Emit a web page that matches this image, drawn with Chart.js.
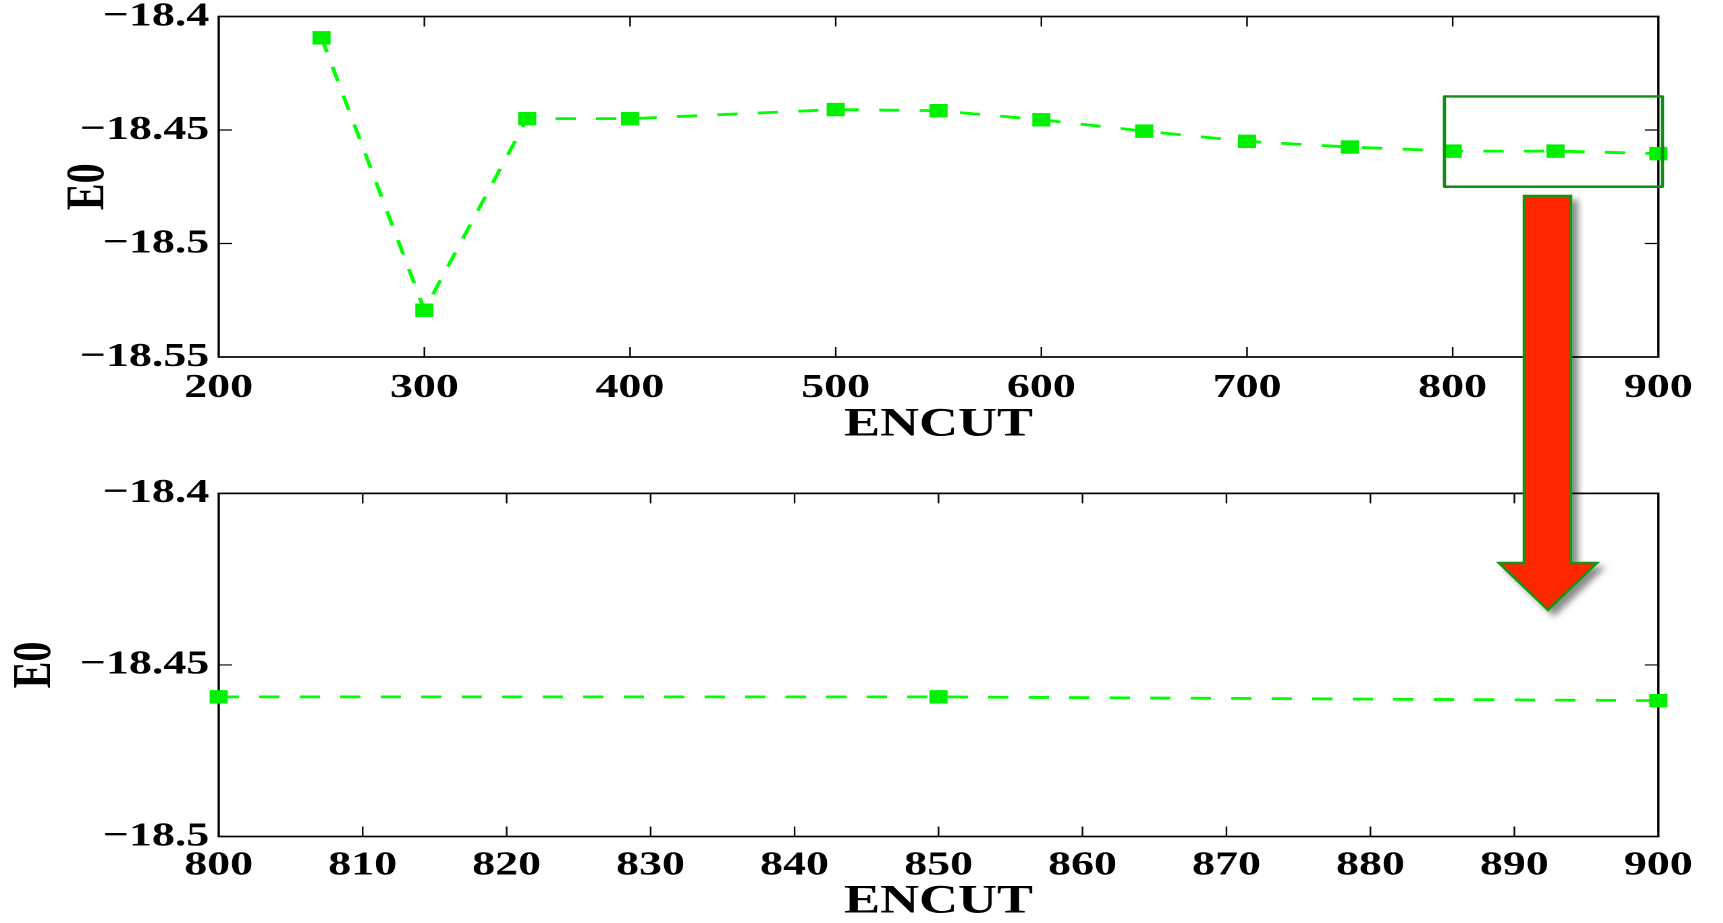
<!DOCTYPE html>
<html>
<head>
<meta charset="utf-8">
<title>E0 vs ENCUT</title>
<script src="https://cdn.jsdelivr.net/npm/chart.js@4.4.1/dist/chart.umd.min.js"></script>
<style>
    html, body {
        margin: 0;
        padding: 0;
        background: #ffffff;
    }

    #figure {
        position: relative;
        width: 1723px;
        height: 923px;
        overflow: hidden;
        background: #ffffff;
    }

    /* the panels are drawn narrow and widened, like the exported figure */
    .panel {
        position: absolute;
        left: 0;
        transform: scaleX(1.35);
        transform-origin: 0 0;
    }

    #overviewPanel {
        top: 0;
    }

    #zoomPanel {
        top: 450px;
    }

    #arrowLayer {
        position: absolute;
        left: 0;
        top: 0;
        pointer-events: none;
    }
</style>
</head>
<body>
<div id="figure">
    <div class="panel" id="overviewPanel">
        <canvas id="overviewChart" width="1276" height="450"></canvas>
    </div>
    <div class="panel" id="zoomPanel">
        <canvas id="zoomChart" width="1276" height="473"></canvas>
    </div>
    <svg id="arrowLayer" width="1723" height="923" viewBox="0 0 1723 923">
        <defs>
            <filter id="arrowShadow" x="-40%" y="-10%" width="180%" height="130%">
                <feDropShadow dx="6" dy="5" stdDeviation="3" flood-color="#000000" flood-opacity="0.45"/>
            </filter>
        </defs>
        <polygon
            points="1524,196 1571,196 1571,563 1597,563 1548,610 1499,563 1524,563"
            fill="#ff2600"
            stroke="#139413"
            stroke-width="2.5"
            filter="url(#arrowShadow)"
        />
    </svg>
</div>

<script>
// cutoff energy (eV) and total energy E0 (eV)
const encut = [250, 300, 350, 400, 500, 550, 600, 650, 700, 750, 800, 850, 900];
const energy = [
    -18.4094, -18.5294, -18.4450, -18.4450, -18.4410, -18.4415, -18.4455,
    -18.4505, -18.4550, -18.4575, -18.4593, -18.4593, -18.4604
];

const overviewXTicks = [200, 300, 400, 500, 600, 700, 800, 900];
const overviewXLabels = ["200", "300", "400", "500", "600", "700", "800", "900"];
const overviewYTicks = [-18.55, -18.5, -18.45, -18.4];
const overviewYLabels = ["\u221218.55", "\u221218.5", "\u221218.45", "\u221218.4"];

const zoomXTicks = [800, 810, 820, 830, 840, 850, 860, 870, 880, 890, 900];
const zoomXLabels = ["800", "810", "820", "830", "840", "850", "860", "870", "880", "890", "900"];
const zoomYTicks = [-18.5, -18.45, -18.4];
const zoomYLabels = ["\u221218.5", "\u221218.45", "\u221218.4"];

// highlighted region on the overview (expanded in the lower panel)
const boxEncut = [796, 902];
const boxEnergy = [-18.4352, -18.475];

const FONT = "'Liberation Serif', 'Times New Roman', serif";
const LINE_GREEN = "#00ff00";
const MARK_GREEN = "#00f000";

// box with inward ticks on all four sides
const framePlugin = {
    id: "frame",
    beforeDatasetsDraw(chart) {
        const { ctx, chartArea: a, scales } = chart;
        const tickLen = 10;

        ctx.save();
        ctx.strokeStyle = "#000000";
        ctx.lineWidth = 1.7;
        ctx.strokeRect(a.left, a.top, a.right - a.left, a.bottom - a.top);

        ctx.lineWidth = 1.2;
        ctx.beginPath();
        scales.x.ticks.forEach((t, i) => {
            const px = scales.x.getPixelForTick(i);
            if (px <= a.left + 1 || px >= a.right - 1) {
                return;
            }
            ctx.moveTo(px, a.bottom);
            ctx.lineTo(px, a.bottom - tickLen);
            ctx.moveTo(px, a.top);
            ctx.lineTo(px, a.top + tickLen);
        });
        scales.y.ticks.forEach((t, i) => {
            const py = scales.y.getPixelForTick(i);
            if (py <= a.top + 1 || py >= a.bottom - 1) {
                return;
            }
            ctx.moveTo(a.left, py);
            ctx.lineTo(a.left + tickLen, py);
            ctx.moveTo(a.right, py);
            ctx.lineTo(a.right - tickLen, py);
        });
        ctx.stroke();
        ctx.restore();
    }
};

const highlightPlugin = {
    id: "highlight",
    afterDraw(chart, args, opts) {
        if (!opts.show) {
            return;
        }
        const { ctx, scales } = chart;
        const x0 = scales.x.getPixelForValue(boxEncut[0]);
        const x1 = scales.x.getPixelForValue(boxEncut[1]);
        const y0 = scales.y.getPixelForValue(boxEnergy[0]);
        const y1 = scales.y.getPixelForValue(boxEnergy[1]);

        ctx.save();
        ctx.strokeStyle = "#128c12";
        ctx.lineWidth = 2.4;
        ctx.lineJoin = "round";
        ctx.strokeRect(x0, y0, x1 - x0, y1 - y0);
        ctx.restore();
    }
};

function createPanel(canvasId, {
    xTicks,
    xLabels,
    yTicks,
    yLabels,
    top,
    xHeight,
    xTickPad,
    xTitlePad,
    yTitlePad,
    highlight = false
}) {
    const points = encut
        .map((x, i) => ({ x: x, y: energy[i] }))
        .filter(p => p.x >= xTicks[0] && p.x <= xTicks[xTicks.length - 1]);

    const tickFont = { family: FONT, size: 34, weight: "bold", lineHeight: 1.2 };
    const titleFont = { family: FONT, size: 40, weight: "bold", lineHeight: 1 };

    return new Chart(document.getElementById(canvasId), {
        type: "line",
        data: {
            datasets: [
                {
                    data: points,
                    borderColor: LINE_GREEN,
                    borderWidth: 2.8,
                    borderDash: [15, 15],
                    tension: 0,
                    fill: false,
                    pointStyle: "rect",
                    pointRadius: 9.5,
                    pointHoverRadius: 9.5,
                    pointBorderWidth: 0,
                    pointBackgroundColor: MARK_GREEN,
                    clip: false
                }
            ]
        },
        options: {
            responsive: false,
            animation: false,
            devicePixelRatio: 2,
            events: [],
            layout: {
                padding: { left: 0, right: 47.6, top: top, bottom: 0 }
            },
            plugins: {
                legend: { display: false },
                tooltip: { enabled: false },
                highlight: { show: highlight }
            },
            scales: {
                x: {
                    type: "linear",
                    min: xTicks[0],
                    max: xTicks[xTicks.length - 1],
                    afterBuildTicks: s => {
                        s.ticks = xTicks.map(v => ({ value: v }));
                    },
                    afterFit: s => {
                        s.height = xHeight;
                        s.paddingLeft = 0;
                        s.paddingRight = 0;
                    },
                    grid: { display: false, drawTicks: false },
                    border: { display: false },
                    ticks: {
                        color: "#000000",
                        font: tickFont,
                        padding: xTickPad,
                        maxRotation: 0,
                        autoSkip: false,
                        callback: (v, i) => xLabels[i]
                    },
                    title: {
                        display: true,
                        text: "ENCUT",
                        color: "#000000",
                        font: titleFont,
                        padding: { top: 0, bottom: xTitlePad }
                    }
                },
                y: {
                    type: "linear",
                    min: yTicks[0],
                    max: yTicks[yTicks.length - 1],
                    afterBuildTicks: s => {
                        s.ticks = yTicks.map(v => ({ value: v }));
                    },
                    afterFit: s => {
                        s.width = 162;
                        s.paddingTop = 0;
                        s.paddingBottom = 0;
                    },
                    grid: { display: false, drawTicks: false },
                    border: { display: false },
                    ticks: {
                        color: "#000000",
                        font: tickFont,
                        padding: 7,
                        autoSkip: false,
                        callback: (v, i) => yLabels[i]
                    },
                    title: {
                        display: true,
                        text: "E0",
                        color: "#000000",
                        font: titleFont,
                        padding: { top: yTitlePad, bottom: 0 }
                    }
                }
            }
        },
        plugins: [framePlugin, highlightPlugin]
    });
}

createPanel("overviewChart", {
    xTicks: overviewXTicks,
    xLabels: overviewXLabels,
    yTicks: overviewYTicks,
    yLabels: overviewYLabels,
    top: 16.5,
    xHeight: 93,
    xTickPad: 11,
    xTitlePad: 5,
    yTitlePad: 46,
    highlight: true
});

createPanel("zoomChart", {
    xTicks: zoomXTicks,
    xLabels: zoomXLabels,
    yTicks: zoomYTicks,
    yLabels: zoomYLabels,
    top: 43.4,
    xHeight: 86.5,
    xTickPad: 9,
    xTitlePad: 1,
    yTitlePad: 6.5
});
</script>
</body>
</html>
